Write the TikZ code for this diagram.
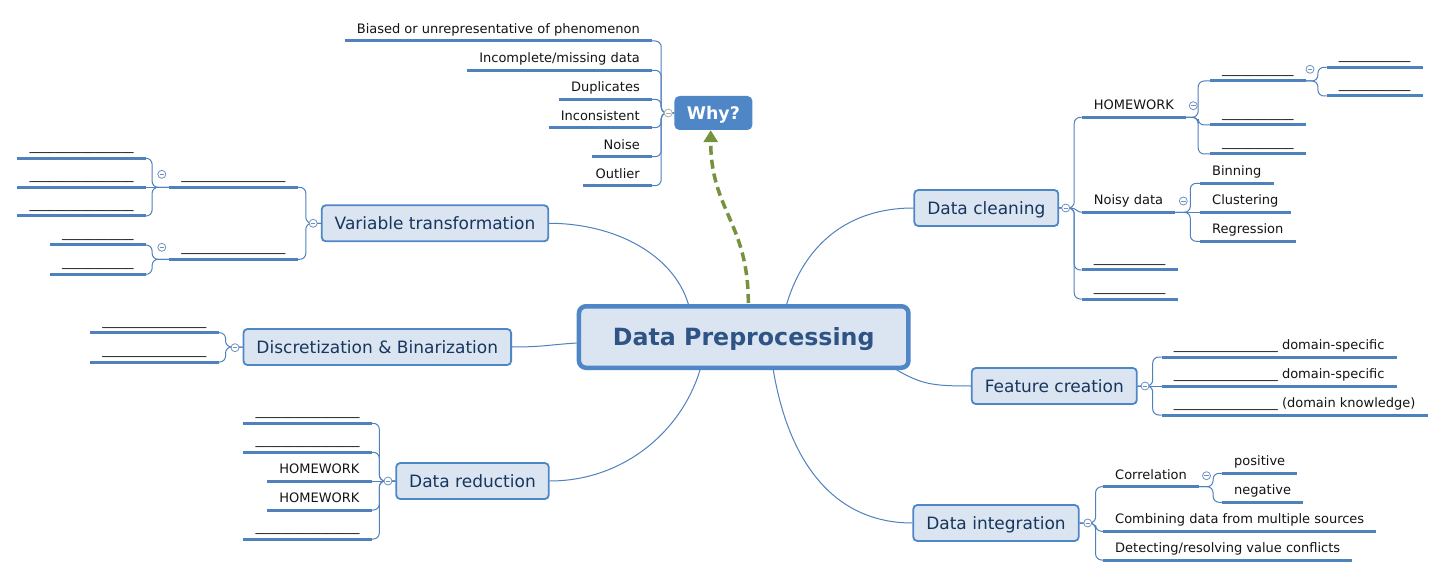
\documentclass[tikz,border=0pt]{standalone}
\usepackage{fontspec}
\setmainfont{DejaVu Sans}
\usetikzlibrary{calc,arrows.meta}
\definecolor{bline}{RGB}{79,129,189}
\definecolor{bbord}{RGB}{79,134,198}
\definecolor{bfill}{RGB}{219,229,241}
\definecolor{btext}{RGB}{23,54,93}
\definecolor{mtext}{RGB}{46,84,133}
\definecolor{relc}{RGB}{118,146,60}
\definecolor{togc}{RGB}{110,145,195}
\definecolor{togg}{RGB}{175,175,175}
\newcommand{\blankL}{\_\_\_\_\_\_\_\_\_\_\_\_\_\_\_\_}
\newcommand{\blankS}{\_\_\_\_\_\_\_\_\_\_\_}
\pgfdeclarelayer{background}
\pgfsetlayers{background,main}
\begin{document}
\begin{tikzpicture}[x=1pt,y=-1pt,
  uline/.style={draw=bline, line width=3pt},
  leaf/.style={font=\fontsize{13}{15}\selectfont, text=black!92, inner xsep=12pt, inner ysep=4.3pt,
    text height=9.5pt, text depth=3pt,
    append after command={(\tikzlastnode.south west) edge[uline] (\tikzlastnode.south east)}},
  lr/.style={leaf, anchor=south west},
  ll/.style={leaf, anchor=south east},
  branch/.style={draw=bbord, line width=1.8pt, fill=bfill, rounded corners=4pt, text=btext,
    font=\fontsize{17}{20}\selectfont, inner xsep=13pt, minimum height=36pt, text height=12.4pt, text depth=0pt},
  mainbox/.style={draw=bbord, line width=4.5pt, fill=bfill, rounded corners=7pt, text=mtext,
    font=\fontsize{23.7}{28}\selectfont\bfseries, minimum width=329.5pt, minimum height=61.5pt, text height=17.3pt, text depth=0pt},
  whybox/.style={fill=bbord, rounded corners=5pt, text=white, font=\fontsize{17.4}{20}\selectfont\bfseries,
    minimum width=78pt, minimum height=34pt, text height=12.7pt, text depth=0pt},
  tog/.style={circle, draw=togc, fill=white, line width=0.8pt, minimum size=8pt, inner sep=0pt,
    path picture={\draw[togc, line width=0.8pt] ([xshift=-2.2pt]path picture bounding box.center) -- ([xshift=2.2pt]path picture bounding box.center);}},
  togw/.style={tog, draw=togg, path picture={\draw[togg, line width=0.8pt] ([xshift=-2.2pt]path picture bounding box.center) -- ([xshift=2.2pt]path picture bounding box.center);}},
  conn/.style={draw=bline, line width=1pt},
  br/.style={conn, rounded corners=6pt},
  rel/.style={draw=relc, line width=3.5pt, dash pattern=on 9pt off 5pt, -{Triangle[width=14pt,length=12pt]}}
]
\useasboundingbox (0,0) rectangle (1445,577);

% main topics
\node[mainbox] (main) at (743.7,337) {Data Preprocessing};
\node[whybox] (why) at (713.4,113) {Why?};
\node[branch] (vt) at (435,223.3) {Variable transformation};
\node[branch] (db) at (377.3,347) {Discretization \& Binarization};
\node[branch] (dr) at (472.5,481) {Data reduction};
\node[branch] (dc) at (986.3,208) {Data cleaning};
\node[branch] (fc) at (1054.3,386) {Feature creation};
\node[branch] (di) at (996,523) {Data integration};

% Why? leaves
\node[ll] (w1) at (652,41) {Biased or unrepresentative of phenomenon};
\node[ll] (w2) at (652,70.3) {Incomplete/missing data};
\node[ll] (w3) at (652,99.3) {Duplicates};
\node[ll] (w4) at (652,127.7) {Inconsistent};
\node[ll] (w5) at (652,156.7) {Noise};
\node[ll] (w6) at (652,185.7) {Outlier};

% Variable transformation leaves
\node[ll] (vta) at (297.5,187.3) {\blankL};
\node[ll] (vtb) at (297.5,259.3) {\blankL};
\node[ll] (vta1) at (145.7,158.3) {\blankL};
\node[ll] (vta2) at (145.7,187.3) {\blankL};
\node[ll] (vta3) at (145.7,216) {\blankL};
\node[ll] (vtb1) at (145.7,245) {\blankS};
\node[ll] (vtb2) at (145.7,274.3) {\blankS};

% Discretization leaves
\node[ll] (db1) at (218.6,332.7) {\blankL};
\node[ll] (db2) at (218.6,362) {\blankL};

% Data reduction leaves
\node[ll] (dr1) at (371.7,423.3) {\blankL};
\node[ll] (dr2) at (371.7,452.3) {\blankL};
\node[ll] (dr3) at (371.7,481) {HOMEWORK};
\node[ll] (dr4) at (371.7,510) {HOMEWORK};
\node[ll] (dr5) at (371.7,539) {\blankL};

% Data cleaning leaves
\node[lr] (hw) at (1081.7,117.3) {HOMEWORK};
\node[lr] (nd) at (1081.7,212.3) {Noisy data};
\node[lr] (dc3) at (1081.7,270) {\blankS};
\node[lr] (dc4) at (1081.7,299) {\blankS};
\node[lr] (hw1) at (1210,81) {\blankS};
\node[lr] (hw2) at (1210,125) {\blankS};
\node[lr] (hw3) at (1210,154) {\blankS};
\node[lr] (hw11) at (1326.7,67.3) {\blankS};
\node[lr] (hw12) at (1326.7,96) {\blankS};
\node[lr] (bin) at (1200,183.3) {Binning};
\node[lr] (clu) at (1200,212.3) {Clustering};
\node[lr] (reg) at (1200,241.3) {Regression};

% Feature creation leaves
\node[lr] (fc1) at (1161.7,357) {\blankL{} domain-specific};
\node[lr] (fc2) at (1161.7,386) {\blankL{} domain-specific};
\node[lr] (fc3) at (1161.7,415) {\blankL{} (domain knowledge)};

% Data integration leaves
\node[lr] (corr) at (1103,486.7) {Correlation};
\node[lr] (comb) at (1103,531.3) {Combining data from multiple sources};
\node[lr] (det) at (1103,560) {Detecting/resolving value conflicts};
\node[lr] (pos) at (1222,473.3) {positive};
\node[lr] (neg) at (1222,502.3) {negative};

\begin{pgfonlayer}{background}
\fill[white] (0,0) rectangle (1445,577);
% main connectors
\draw[conn] ($(main.north)+(-55.4,0)$) .. controls +(-15,-50) and +(65,0) .. (vt.east);
\draw[conn] ($(main.north)+(43,0)$) .. controls +(18,-60) and +(-65,0) .. (dc.west);
\draw[conn] ($(main.south)+(-43.7,0)$) .. controls +(-18,60) and +(75,0) .. (dr.east);
\draw[conn] ($(main.south)+(29.6,0)$) .. controls +(15,90) and +(-80,0) .. (di.west);
\draw[conn] ($(main.south)+(153,0)$) .. controls +(25,14) and +(-40,0) .. (fc.west);
\draw[conn] ($(main.west)+(0,6)$) .. controls +(-30,2) and +(30,0) .. (db.east);

% Why? bracket
\foreach \c in {w1,w2,w3,w4,w5,w6} \draw[br] (why.west) -- ++(-13,0) |- (\c.south east);
% Variable transformation
\foreach \c in {vta,vtb} \draw[br] (vt.west) -- ++(-15,0) |- (\c.south east);
\foreach \c in {vta1,vta3} \draw[br] (vta.south west) -- ++(-17,0) |- (\c.south east);
\draw[conn] (vta.south west) -- (vta2.south east);
\foreach \c in {vtb1,vtb2} \draw[br] (vtb.south west) -- ++(-17,0) |- (\c.south east);
% Discretization
\foreach \c in {db1,db2} \draw[br] (db.west) -- ++(-17,0) |- (\c.south east);
% Data reduction
\foreach \c in {dr1,dr2,dr4,dr5} \draw[br] (dr.west) -- ++(-16,0) |- (\c.south east);
\draw[conn] (dr.west) -- (dr3.south east);
% Data cleaning
\foreach \c in {hw,dc3,dc4} \draw[br] (dc.east) -- ++(15,0) |- (\c.south west);
\draw[conn] (dc.east) -- ++(12,0) to[out=0,in=180] (nd.south west);
\foreach \c in {hw1,hw2,hw3} \draw[br] (hw.south east) -- ++(12,0) |- (\c.south west);
\foreach \c in {hw11,hw12} \draw[br] (hw1.south east) -- ++(12,0) |- (\c.south west);
\foreach \c in {bin,reg} \draw[br] (nd.south east) -- ++(15,0) |- (\c.south west);
\draw[conn] (nd.south east) -- (clu.south west);
% Feature creation
\foreach \c in {fc1,fc3} \draw[br] (fc.east) -- ++(15,0) |- (\c.south west);
\draw[conn] (fc.east) -- (fc2.south west);
% Data integration
\foreach \c in {corr,comb,det} \draw[br] (di.east) -- ++(16,0) |- (\c.south west);
\foreach \c in {pos,neg} \draw[br] (corr.south east) -- ++(14,0) |- (\c.south west);
\end{pgfonlayer}

% relationship arrow
\draw[rel] ($(main.north)+(4.6,-1)$) .. controls +(0,-80) and +(0,80) .. ($(why.south)+(-2.7,0)$);

% collapse toggles
\node[togw] (twhy) at (668.3,113) {};
\node[tog] (tvt) at (313.2,223.3) {};
\node[tog] (tvta) at (161.8,174.3) {};
\node[tog] (tvtb) at (161.8,247.3) {};
\node[tog] (tdb) at (235,347.7) {};
\node[tog] (tdr) at (388,481) {};
\node[tog] (tdc) at (1065.7,208) {};
\node[tog] (thw) at (1193.3,105.7) {};
\node[tog] (thw1) at (1310,69.3) {};
\node[tog] (tnd) at (1183.3,201) {};
\node[tog] (tfc) at (1145,386) {};
\node[tog] (tdi) at (1087.7,523) {};
\node[tog] (tcorr) at (1206.5,475.7) {};
\end{tikzpicture}
\end{document}
